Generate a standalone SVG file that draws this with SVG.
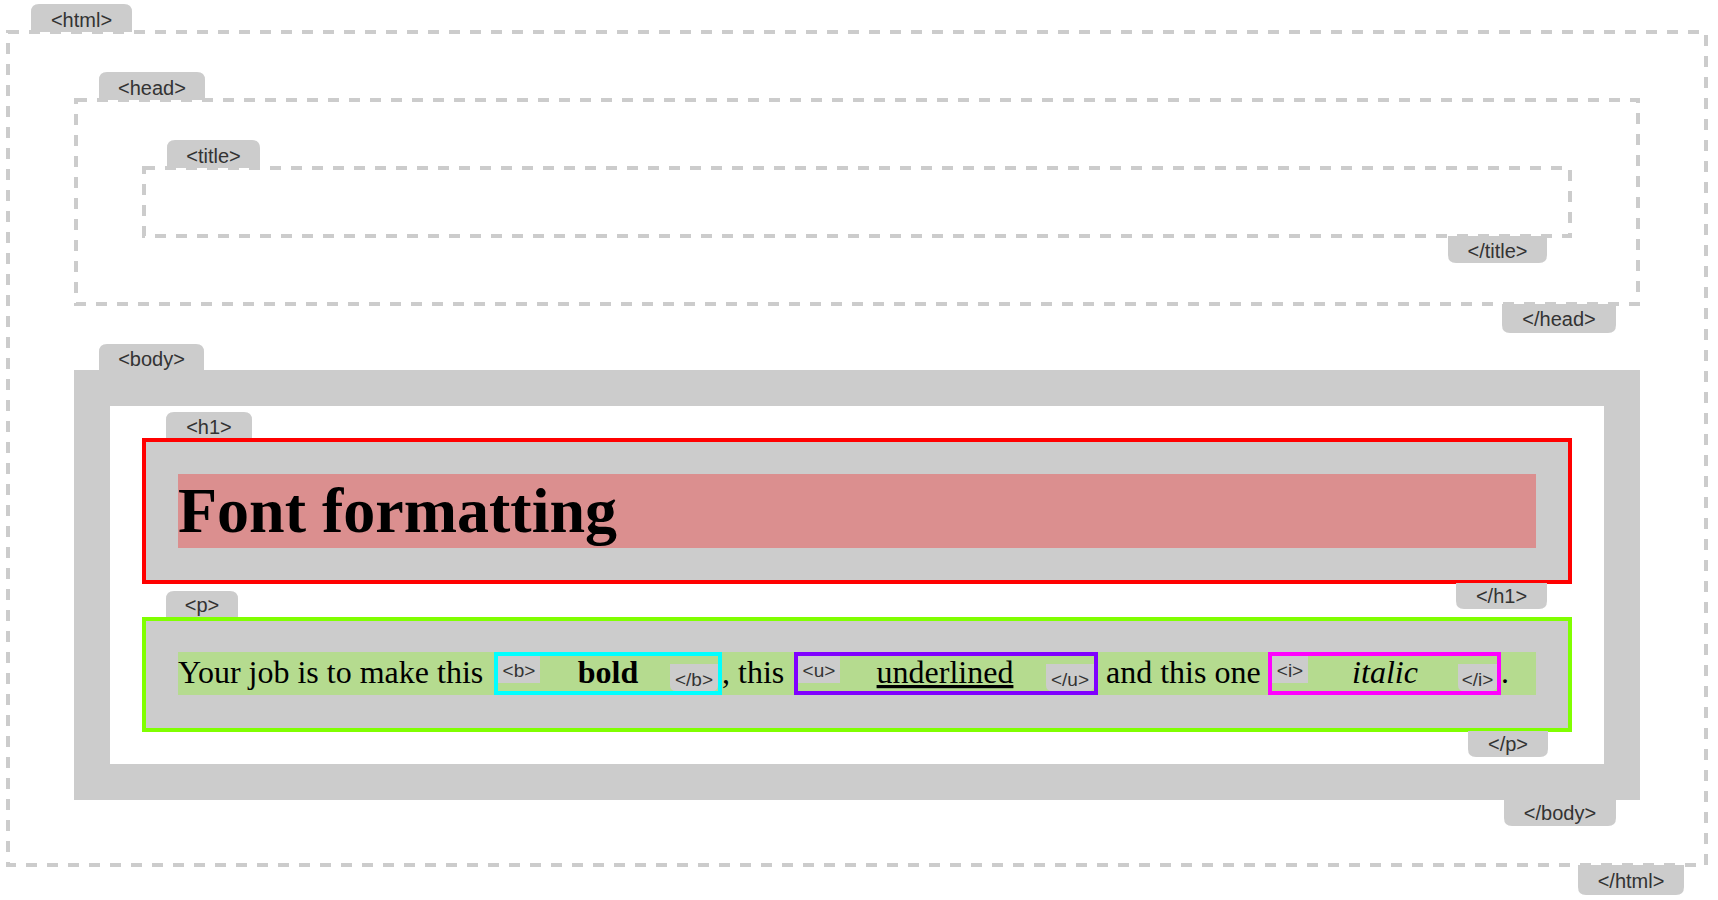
<svg xmlns="http://www.w3.org/2000/svg" width="1718" height="900" viewBox="0 0 1718 900">
<defs>
<style>
.dash{fill:none;stroke:#cccccc;stroke-width:4;stroke-dasharray:11 10}
.tag{fill:#cccccc}
.tt{font-family:"Liberation Sans",Arial,sans-serif;font-size:20px;fill:#333333;text-anchor:middle}
.it{font-family:"Liberation Sans",Arial,sans-serif;font-size:19px;fill:#333333;text-anchor:middle}
.ser{font-family:"Liberation Serif","Times New Roman",serif;font-size:32px;fill:#000000}
</style>
</defs>
<rect width="1718" height="900" fill="#ffffff"/>

<g id="html">
<rect class="dash" x="8" y="32" width="1698" height="833"/>
<path class="tag" d="M31,32 V12 Q31,4 39,4 H124 Q132,4 132,12 V32 Z"/>
<text class="tt" x="81.5" y="26.5">&lt;html&gt;</text>
<path class="tag" d="M1578,865 H1684 V887 Q1684,895 1676,895 H1586 Q1578,895 1578,887 Z"/>
<text class="tt" x="1631" y="888">&lt;/html&gt;</text>
</g>

<g id="head">
<rect class="dash" x="76" y="100" width="1562" height="204"/>
<path class="tag" d="M99,100 V80 Q99,72 107,72 H197 Q205,72 205,80 V100 Z"/>
<text class="tt" x="152" y="94.5">&lt;head&gt;</text>
<path class="tag" d="M1502,304 H1616 V325 Q1616,333 1608,333 H1510 Q1502,333 1502,325 Z"/>
<text class="tt" x="1559" y="326">&lt;/head&gt;</text>
</g>

<g id="title">
<rect class="dash" x="144" y="168" width="1426" height="68"/>
<path class="tag" d="M167,168 V148 Q167,140 175,140 H252 Q260,140 260,148 V168 Z"/>
<text class="tt" x="213.5" y="162.5">&lt;title&gt;</text>
<path class="tag" d="M1448,236 H1547 V255 Q1547,263 1539,263 H1456 Q1448,263 1448,255 Z"/>
<text class="tt" x="1497.5" y="258">&lt;/title&gt;</text>
</g>

<g id="body">
<rect x="74" y="370" width="1566" height="430" fill="#cccccc"/>
<rect x="110" y="406" width="1494" height="358" fill="#ffffff"/>
<path class="tag" d="M99,370 V352 Q99,344 107,344 H196 Q204,344 204,352 V370 Z"/>
<text class="tt" x="151.5" y="366">&lt;body&gt;</text>
<path class="tag" d="M1504,800 H1616 V818 Q1616,826 1608,826 H1512 Q1504,826 1504,818 Z"/>
<text class="tt" x="1560" y="820">&lt;/body&gt;</text>
</g>

<g id="h1">
<rect x="144" y="440" width="1426" height="142" fill="#cccccc" stroke="#ff0000" stroke-width="4"/>
<rect x="178" y="474" width="1358" height="74" fill="#db8f8f"/>
<text x="178" y="532" font-family="'Liberation Serif','Times New Roman',serif" font-size="64" font-weight="bold" fill="#000000">Font formatting</text>
<path class="tag" d="M166,438 V420 Q166,412 174,412 H244 Q252,412 252,420 V438 Z"/>
<text class="tt" x="209" y="433.5">&lt;h1&gt;</text>
<path class="tag" d="M1456,583 H1547 V601 Q1547,609 1539,609 H1464 Q1456,609 1456,601 Z"/>
<text class="tt" x="1501.5" y="603">&lt;/h1&gt;</text>
</g>

<g id="p">
<rect x="144" y="619" width="1426" height="111" fill="#cccccc" stroke="#80ff00" stroke-width="4"/>
<rect x="178" y="652" width="1358" height="43" fill="#b5db8f"/>
<text class="ser" x="178" y="683">Your job is to make this</text>
<text class="ser" x="722" y="683">, this</text>
<text class="ser" x="1106" y="683">and this one</text>
<text class="ser" x="1501" y="683">.</text>
<path class="tag" d="M166,617 V599 Q166,591 174,591 H230 Q238,591 238,599 V617 Z"/>
<text class="tt" x="202" y="611.5">&lt;p&gt;</text>
<path class="tag" d="M1468,731 H1548 V749 Q1548,757 1540,757 H1476 Q1468,757 1468,749 Z"/>
<text class="tt" x="1508" y="751">&lt;/p&gt;</text>
</g>

<g id="b">
<rect x="496" y="654" width="224" height="39" fill="none" stroke="#00ffff" stroke-width="4"/>
<rect class="tag" x="498" y="656" width="42" height="27"/>
<text class="it" x="519" y="677">&lt;b&gt;</text>
<text class="ser" x="608" y="683" font-weight="bold" text-anchor="middle">bold</text>
<path class="tag" d="M670,664 H718 V685 Q718,691 712,691 H676 Q670,691 670,685 Z"/>
<text class="it" x="694" y="686">&lt;/b&gt;</text>
</g>

<g id="u">
<rect x="796" y="654" width="300" height="39" fill="none" stroke="#8000ff" stroke-width="4"/>
<rect class="tag" x="798" y="656" width="42" height="27"/>
<text class="it" x="819" y="677">&lt;u&gt;</text>
<text class="ser" x="945" y="683" text-anchor="middle" text-decoration="underline">underlined</text>
<path class="tag" d="M1046,664 H1094 V685 Q1094,691 1088,691 H1052 Q1046,691 1046,685 Z"/>
<text class="it" x="1070" y="686">&lt;/u&gt;</text>
</g>

<g id="i">
<rect x="1270" y="654" width="229" height="39" fill="none" stroke="#ff00ff" stroke-width="4"/>
<rect class="tag" x="1272" y="656" width="36" height="27"/>
<text class="it" x="1290" y="677">&lt;i&gt;</text>
<text class="ser" x="1385" y="683" font-style="italic" text-anchor="middle">italic</text>
<path class="tag" d="M1458,664 H1497 V685 Q1497,691 1491,691 H1464 Q1458,691 1458,685 Z"/>
<text class="it" x="1477.5" y="686">&lt;/i&gt;</text>
</g>

<g id="connectors"></g>
</svg>
